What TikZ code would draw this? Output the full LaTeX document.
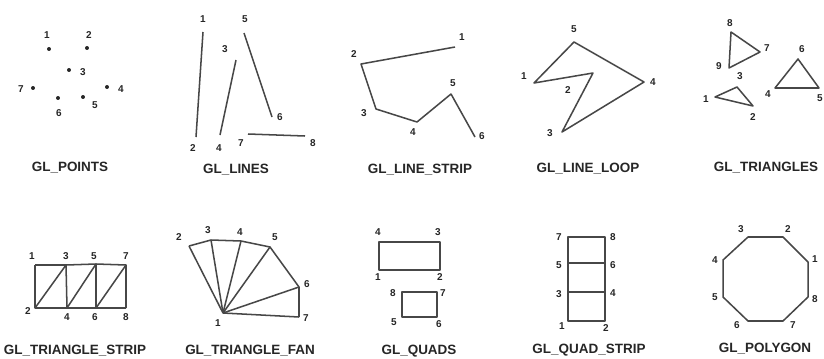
\documentclass[tikz,border=0pt]{standalone}
\usepackage{fontspec}
\setmainfont{Liberation Sans}
\usetikzlibrary{calc}

\tikzset{
  edge/.style={draw=black!72, line width=1.3pt, line join=round},
  num/.style={font=\bfseries\fontsize{8.5}{9}\selectfont, text=black!85, inner sep=0pt},
  caption/.style={font=\bfseries\fontsize{11.5}{12}\selectfont, text=black!85, inner sep=0pt},
  dot/.style={circle, fill=black!85, inner sep=0pt, minimum size=3.4pt},
}

\begin{document}
\begin{tikzpicture}[x=0.03cm, y=-0.03cm]
  \useasboundingbox[fill=white] (0,0) rectangle (824,358);

  % GL_POINTS
  \foreach \i/\x/\y/\lx/\ly in {1/49/49/47/35, 2/87/48/89/35, 3/69/70/83/72, 4/107/87/121/89,
                                5/83/97/95/105, 6/58/98/59/113, 7/33/88/21/89}{
    \node[dot] (pt\i) at (\x,\y) {};
    \node[num] (lpt\i) at (\lx,\ly) {\i};
  }
  \node[caption] (cpoints) at (70,168) {GL\_POINTS};

  % GL_LINES
  \foreach \i/\x/\y/\lx/\ly in {1/203/32/203/19, 2/196/137/193/148, 3/236/60/225/49, 4/220/135/219/148,
                                5/244/33/245/19, 6/272/117/280/117, 7/248/134/241/143, 8/305/136/313/143}{
    \coordinate (l\i) at (\x,\y);
    \node[num] (ll\i) at (\lx,\ly) {\i};
  }
  \draw[edge] (l1) -- (l2) (l3) -- (l4) (l5) -- (l6) (l7) -- (l8);
  \node[caption] (clines) at (236,170) {GL\_LINES};

  % GL_LINE_STRIP
  \foreach \i/\x/\y/\lx/\ly in {1/455/47/462/37, 2/361/64/354/54, 3/376/109/364/113,
                                4/417/122/413/132, 5/451/94/453/83, 6/475/137/482/136}{
    \coordinate (s\i) at (\x,\y);
    \node[num] (ls\i) at (\lx,\ly) {\i};
  }
  \draw[edge] (s1) -- (s2) -- (s3) -- (s4) -- (s5) -- (s6);
  \node[caption] (cstrip) at (420,170) {GL\_LINE\_STRIP};

  % GL_LINE_LOOP
  \foreach \i/\x/\y/\lx/\ly in {1/534/83/524/76, 2/593/73/568/90, 3/562/132/550/133,
                                4/644/82/653/82, 5/574/42/574/29}{
    \coordinate (o\i) at (\x,\y);
    \node[num] (lo\i) at (\lx,\ly) {\i};
  }
  \draw[edge] (o1) -- (o2) -- (o3) -- (o4) -- (o5) -- cycle;
  \node[caption] (cloop) at (588,169) {GL\_LINE\_LOOP};

  % GL_TRIANGLES
  \foreach \i/\x/\y/\lx/\ly in {1/715/97/706/99, 2/753/106/753/117, 3/737/87/740/76,
                                4/775/88/768/94, 5/819/88/820/98, 6/798/59/802/49,
                                7/760/52/767/48, 8/731/32/730/23, 9/729/68/719/66}{
    \coordinate (t\i) at (\x,\y);
    \node[num] (lt\i) at (\lx,\ly) {\i};
  }
  \draw[edge] (t1) -- (t2) -- (t3) -- cycle;
  \draw[edge] (t4) -- (t5) -- (t6) -- cycle;
  \draw[edge] (t7) -- (t8) -- (t9) -- cycle;
  \node[caption] (ctris) at (766,168) {GL\_TRIANGLES};

  % GL_TRIANGLE_STRIP
  \foreach \i/\x/\y/\lx/\ly in {1/35/265/32/256, 2/35/308/28/311, 3/66/265/66/256, 4/67/308/67/317,
                                5/96/264/94/256, 6/96/308/95/317, 7/126/265/126/256, 8/126/308/126/317}{
    \coordinate (ts\i) at (\x,\y);
    \node[num] (lts\i) at (\lx,\ly) {\i};
  }
  \draw[edge] (ts1) -- (ts2) -- (ts3) -- (ts4) -- (ts5) -- (ts6) -- (ts7) -- (ts8);
  \draw[edge] (ts1) -- (ts3) -- (ts5) -- (ts7);
  \draw[edge] (ts2) -- (ts4) -- (ts6) -- (ts8);
  \node[caption] (ctstrip) at (75,351) {GL\_TRIANGLE\_STRIP};

  % GL_TRIANGLE_FAN
  \foreach \i/\x/\y/\lx/\ly in {1/223/313/218/323, 2/189/246/179/237, 3/211/240/208/230,
                                4/241/241/240/232, 5/270/247/275/237, 6/299/287/307/284, 7/299/317/306/318}{
    \coordinate (f\i) at (\x,\y);
    \node[num] (lf\i) at (\lx,\ly) {\i};
  }
  \draw[edge] (f2) -- (f3) -- (f4) -- (f5) -- (f6) -- (f7);
  \foreach \j in {2,...,7}
    \draw[edge] (f1) -- (f\j);
  \node[caption] (cfan) at (250,351) {GL\_TRIANGLE\_FAN};

  % GL_QUADS
  \foreach \i/\x/\y/\lx/\ly in {1/379/270/378/277, 2/440/270/440/277, 3/440/242/438/232, 4/379/242/378/232,
                                5/402/317/394/322, 6/437/317/439/324, 7/437/292/443/293, 8/402/292/393/293}{
    \coordinate (q\i) at (\x,\y);
    \node[num] (lq\i) at (\lx,\ly) {\i};
  }
  \draw[edge] (q1) -- (q2) -- (q3) -- (q4) -- cycle;
  \draw[edge] (q5) -- (q6) -- (q7) -- (q8) -- cycle;
  \node[caption] (cquads) at (419,351) {GL\_QUADS};

  % GL_QUAD_STRIP
  \foreach \i/\x/\y/\lx/\ly in {1/568/321/562/326, 2/605/321/606/328, 3/568/292/559/294, 4/605/292/613/293,
                                5/568/263/559/265, 6/605/263/613/265, 7/568/237/559/237, 8/605/237/613/237}{
    \coordinate (qs\i) at (\x,\y);
    \node[num] (lqs\i) at (\lx,\ly) {\i};
  }
  \draw[edge] (qs1) -- (qs2) -- (qs4) -- (qs6) -- (qs8) -- (qs7) -- (qs5) -- (qs3) -- cycle;
  \draw[edge] (qs3) -- (qs4) (qs5) -- (qs6);
  \node[caption] (cqstrip) at (589,350) {GL\_QUAD\_STRIP};

  % GL_POLYGON
  \foreach \i/\x/\y/\lx/\ly in {1/808/262/815/259, 2/783/237/788/229, 3/748/237/741/229, 4/723/260/715/260,
                                5/723/297/715/297, 6/748/321/737/325, 7/783/321/793/325, 8/808/297/815/299}{
    \coordinate (g\i) at (\x,\y);
    \node[num] (lg\i) at (\lx,\ly) {\i};
  }
  \draw[edge] (g1) -- (g2) -- (g3) -- (g4) -- (g5) -- (g6) -- (g7) -- (g8) -- cycle;
  \node[caption] (cpoly) at (765,349) {GL\_POLYGON};
\end{tikzpicture}
\end{document}
